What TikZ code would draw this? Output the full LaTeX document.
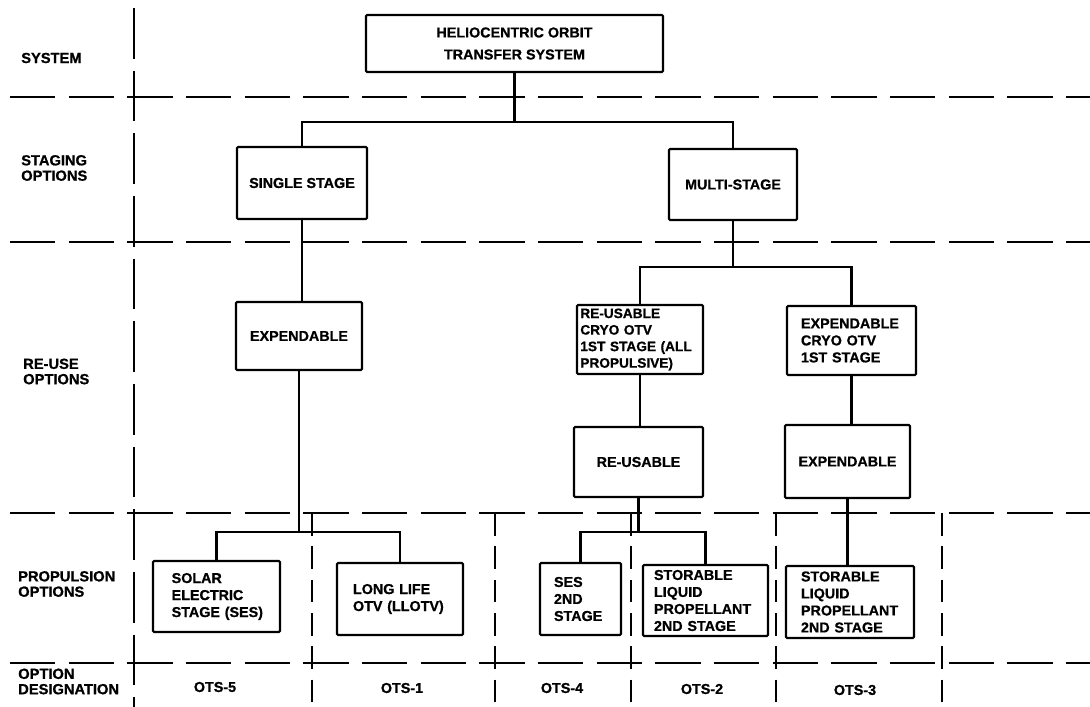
\documentclass[tikz,border=0pt]{standalone}
\usepackage{fontspec}
\setmainfont{Liberation Sans}[BoldFeatures={FakeBold=0.8}]
\newcommand\bxf{\fontsize{10.75}{12.75}\selectfont\bfseries}
\newcommand\bxs{\fontsize{10.25}{12.4}\selectfont\bfseries}
\newcommand\labf{\fontsize{11}{11.5}\selectfont\bfseries}
\begin{document}
\begin{tikzpicture}[x=0.75pt,y=-0.75pt,
  box/.style={draw, line width=1.6pt, rounded corners=0.8pt, inner ysep=0pt, font=\bxf},
  cbox/.style={box, align=center, inner xsep=0pt},
  lbox/.style={box, align=left},
  conn/.style={line width=1.7pt},
  gridh/.style={line width=1.5pt, dash pattern=on 34pt off 10pt},
  gridv/.style={line width=1.5pt, dash pattern=on 38pt off 9pt},
  gridl/.style={line width=1.4pt, dash pattern=on 17pt off 8pt},
  lab/.style={font=\labf, align=left, anchor=west, inner sep=0pt},
  ots/.style={font=\bxf, inner sep=0pt}]
\useasboundingbox (0,0) rectangle (1090,707);

% dashed grid
\draw[gridh] (10,97) -- (1090,97);
\draw[gridh] (10,242) -- (1090,242);
\draw[gridh] (10,513) -- (1090,513);
\draw[gridh] (10,663) -- (1090,663);
\draw[gridv] (134,8) -- (134,707);
\draw[gridl] (312,513) -- (312,707);
\draw[gridl] (495,513) -- (495,707);
\draw[gridl] (631,513) -- (631,707);
\draw[gridl] (776,513) -- (776,707);
\draw[gridl] (942,513) -- (942,707);

% left labels
\node[lab] (lsys) at (21,58) {SYSTEM};
\node[lab] (lstg) at (21,168) {STAGING\\OPTIONS};
\node[lab] (lreu) at (23,371.5) {RE-USE\\OPTIONS};
\node[lab] (lpro) at (18,584) {PROPULSION\\OPTIONS};
\node[lab] (lopt) at (18,681.5) {OPTION\\DESIGNATION};

% boxes
\node[cbox, minimum width=222.75pt, minimum height=42.75pt] (top) at (514.5,43.5) {HELIOCENTRIC ORBIT\\[3.75pt]TRANSFER SYSTEM};
\node[cbox, minimum width=97.5pt, minimum height=54pt] (single) at (302,183) {SINGLE STAGE};
\node[cbox, minimum width=96pt, minimum height=53.25pt] (multi) at (733,184.5) {MULTI-STAGE};
\node[cbox, minimum width=94.5pt, minimum height=51pt] (expL) at (299,336) {EXPENDABLE};
\node[lbox, font=\bxs, minimum height=51.75pt, inner xsep=2.5pt, text width=89.5pt] (cryoR) at (640,339.5) {RE-USABLE\\CRYO~OTV\\1ST~STAGE~(ALL\\PROPULSIVE)};
\node[lbox, minimum height=51.75pt, inner xsep=10.5pt, text width=75.75pt] (cryoE) at (851.5,340.5) {EXPENDABLE\\CRYO~OTV\\1ST~STAGE};
\node[cbox, minimum width=96.75pt, minimum height=52.5pt] (reuse) at (638.5,462) {RE-USABLE};
\node[cbox, minimum width=93.75pt, minimum height=54.75pt] (expR) at (847.5,461.5) {EXPENDABLE};
\node[lbox, minimum height=53.25pt, inner xsep=14pt, text width=67.25pt] (solar) at (216.5,596.5) {SOLAR\\ELECTRIC\\STAGE~(SES)};
\node[lbox, minimum height=54pt, inner xsep=12pt, text width=70.5pt] (llotv) at (400,599) {LONG~LIFE\\OTV~(LLOTV)};
\node[lbox, minimum height=54pt, inner xsep=10.5pt, text width=39.75pt] (ses2) at (580.5,599) {SES\\2ND\\STAGE};
\node[lbox, minimum height=53.25pt, inner xsep=8.25pt, text width=77.25pt] (stor2) at (705.5,600.5) {STORABLE\\LIQUID\\PROPELLANT\\2ND~STAGE};
\node[lbox, minimum height=54pt, inner xsep=11.25pt, text width=73.5pt] (stor3) at (850,602) {STORABLE\\LIQUID\\PROPELLANT\\2ND~STAGE};

% option designations
\node[ots] (o5) at (215,687) {OTS-5};
\node[ots] (o1) at (402,688) {OTS-1};
\node[ots] (o4) at (562,688) {OTS-4};
\node[ots] (o2) at (702,689) {OTS-2};
\node[ots] (o3) at (855,690) {OTS-3};

% junctions
\coordinate (j1) at (514.5,122);
\coordinate (j2) at (733,267);
\coordinate (j3) at (299,532);
\coordinate (j4) at (638.5,532);

% connectors
\draw[conn] (top.south) -- (j1);
\draw[conn] (single.north) |- (j1) -| (multi.north);
\draw[conn] (single.south) -- (single.south |- expL.north);
\draw[conn] (multi.south) -- (j2);
\draw[conn] (cryoR.north) |- (j2) -| (cryoE.north);
\draw[conn] (cryoR.south) -- (cryoR.south |- reuse.north);
\draw[conn] (cryoE.south) -- (cryoE.south |- expR.north);
\draw[conn] (expL.south) -- (j3);
\draw[conn] (solar.north) |- (j3) -| (llotv.north);
\draw[conn] (reuse.south) -- (j4);
\draw[conn] (ses2.north) |- (j4) -| (stor2.north);
\draw[conn] (expR.south) -- (expR.south |- stor3.north);
\end{tikzpicture}
\end{document}
